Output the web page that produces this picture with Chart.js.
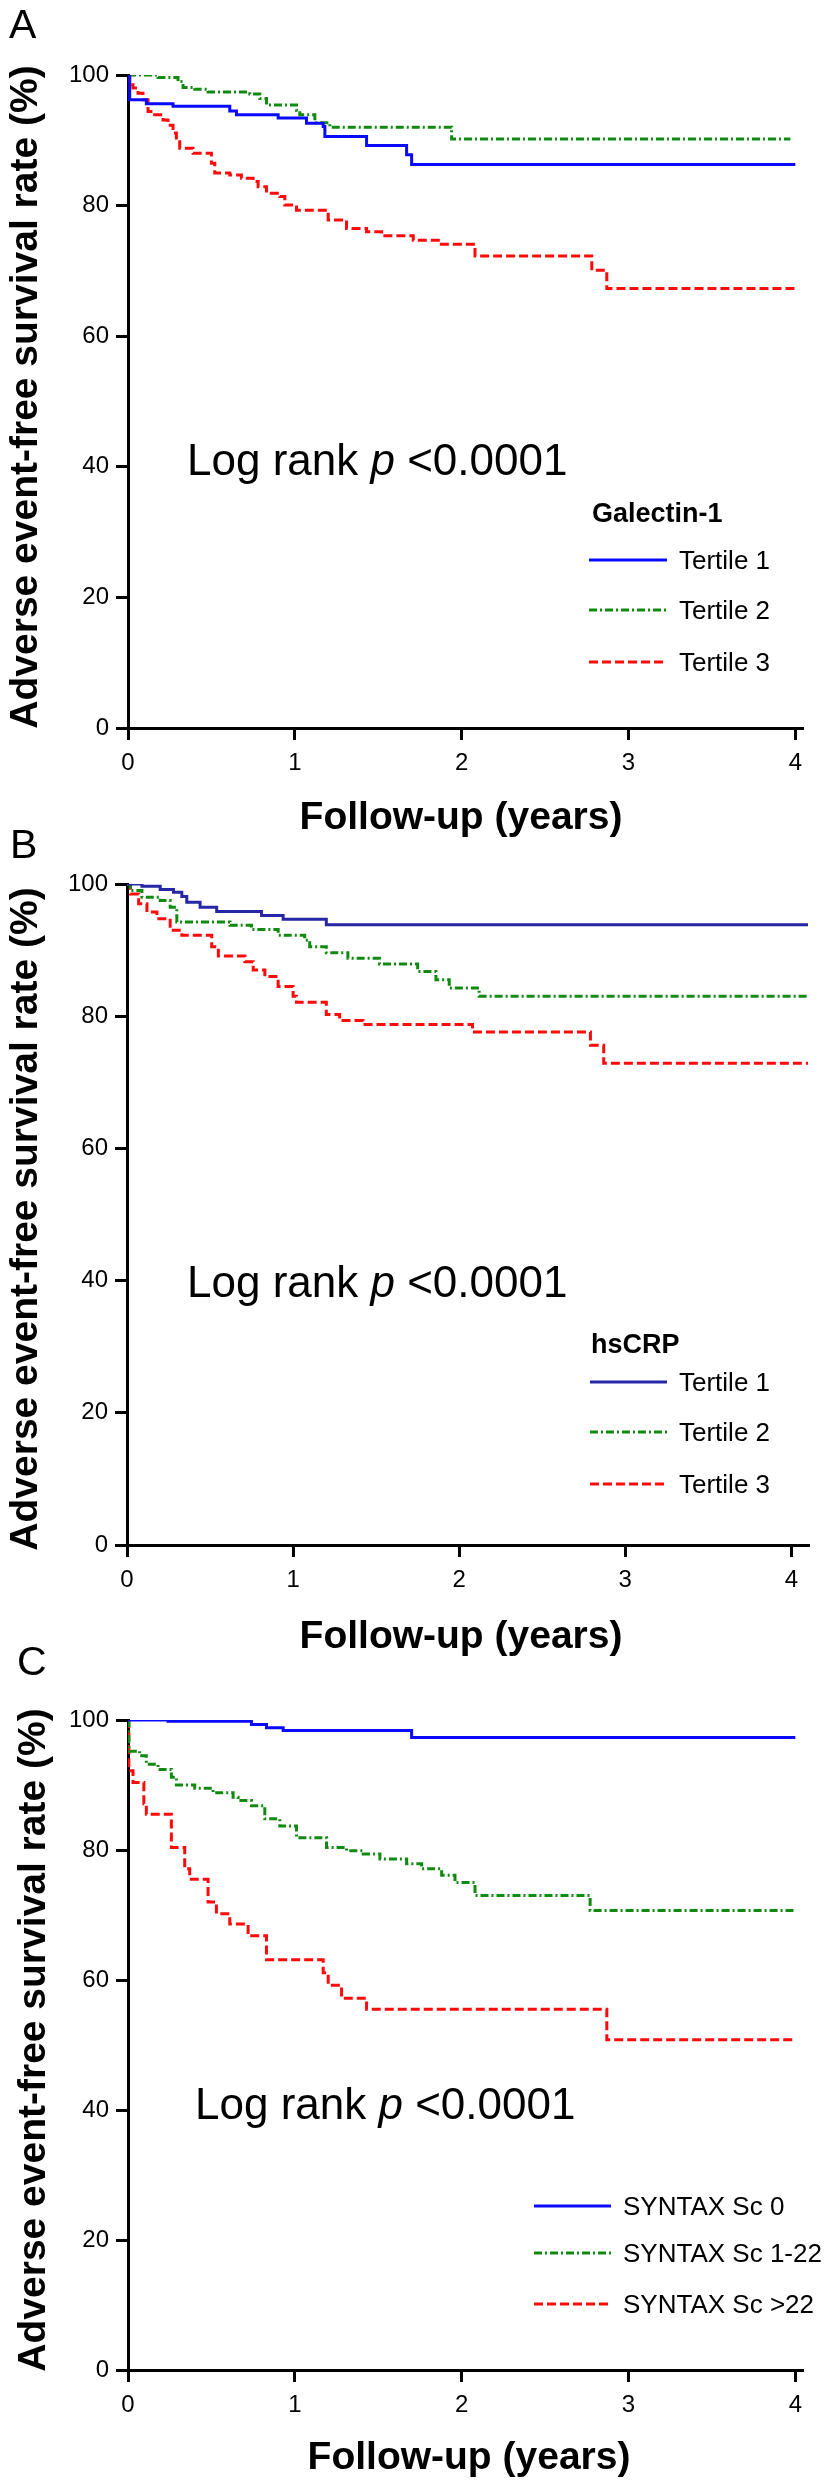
<!DOCTYPE html>
<html>
<head>
<meta charset="utf-8">
<script src="https://cdn.jsdelivr.net/npm/chart.js@4.4.1/dist/chart.umd.min.js"></script>
<style>
html,body{margin:0;padding:0;background:#fff;}
#wrap{position:relative;width:838px;height:2486px;overflow:hidden;background:#fff;}
#wrap canvas{position:absolute;left:0;top:0;}
</style>
</head>
<body>
<div id="wrap">
<canvas id="cA" width="838" height="2486"></canvas>
<canvas id="cB" width="838" height="2486"></canvas>
<canvas id="cC" width="838" height="2486"></canvas>
</div>
<script>
// ---------- tick labels ----------
const xTickValues = [0, 1, 2, 3, 4];
const yTickValues = [0, 20, 40, 60, 80, 100];

// ---------- texts ----------
const xAxisTitle = 'Follow-up (years)';
const yAxisTitle = 'Adverse event-free survival rate (%)';
const panelLetters = ['A', 'B', 'C'];
const legendTitles = ['Galectin-1', 'hsCRP', ''];
const tertileLabels = ['Tertile 1', 'Tertile 2', 'Tertile 3'];
const syntaxLabels = ['SYNTAX Sc 0', 'SYNTAX Sc 1-22', 'SYNTAX Sc >22'];

// ---------- Panel A : Galectin-1 ----------
const aT1Time = [0, 0.01, 0.11, 0.27, 0.61, 0.65, 0.90, 1.07, 1.17, 1.18, 1.43, 1.67, 1.70, 4.0];
const aT1Surv = [100, 96.2, 95.6, 95.2, 94.5, 93.9, 93.4, 92.6, 92.1, 90.6, 89.2, 87.8, 86.3, 86.3];
const aT2Time = [0, 0.18, 0.30, 0.33, 0.40, 0.48, 0.73, 0.79, 0.83, 1.01, 1.03, 1.12, 1.21, 1.94, 3.97];
const aT2Surv = [100, 99.6, 99.0, 98.1, 97.8, 97.4, 97.1, 96.4, 95.4, 94.6, 93.9, 92.7, 92.0, 90.2, 90.2];
const aT3Time = [0, 0.01, 0.03, 0.06, 0.09, 0.12, 0.16, 0.21, 0.24, 0.27, 0.29, 0.31, 0.39, 0.50, 0.52, 0.61, 0.68, 0.75, 0.78, 0.83, 0.91, 0.94, 1.01, 1.20, 1.31, 1.43, 1.52, 1.71, 1.86, 2.08, 2.78, 2.87, 4.0];
const aT3Surv = [100, 98.5, 98.0, 97.2, 96.2, 94.4, 93.9, 93.1, 92.3, 91.1, 90.1, 88.8, 88.0, 86.5, 85.0, 84.7, 84.2, 83.7, 82.9, 81.9, 81.4, 80.1, 79.3, 77.8, 76.5, 76.0, 75.4, 74.7, 74.1, 72.3, 70.1, 67.3, 67.3];

// ---------- Panel B : hsCRP ----------
const bT1Time = [0, 0.09, 0.20, 0.28, 0.33, 0.36, 0.44, 0.54, 0.81, 0.94, 1.20, 4.10];
const bT1Surv = [100, 99.65, 99.15, 98.75, 98.1, 97.25, 96.5, 95.85, 95.25, 94.65, 93.85, 93.85];
const bT2Time = [0, 0.02, 0.09, 0.20, 0.26, 0.30, 0.62, 0.75, 0.91, 1.07, 1.10, 1.20, 1.33, 1.52, 1.75, 1.86, 1.94, 2.12, 4.10];
const bT2Surv = [100, 99.0, 98.0, 97.5, 96.5, 94.25, 93.75, 93.1, 92.25, 91.5, 90.5, 89.6, 88.75, 87.9, 86.75, 85.5, 84.25, 83.0, 83.0];
const bT3Time = [0, 0.02, 0.07, 0.12, 0.18, 0.26, 0.33, 0.51, 0.55, 0.71, 0.76, 0.83, 0.91, 1.00, 1.02, 1.20, 1.28, 1.42, 2.08, 2.79, 2.87, 4.10];
const bT3Surv = [100, 98.5, 97.0, 95.75, 94.75, 93.0, 92.25, 90.5, 89.1, 88.25, 87.0, 86.0, 84.5, 83.0, 82.1, 80.25, 79.35, 78.75, 77.6, 75.6, 72.9, 72.9];

// ---------- Panel C : SYNTAX score ----------
const cS0Time = [0, 0.24, 0.74, 0.83, 0.93, 1.70, 4.0];
const cS0Surv = [100, 99.8, 99.3, 98.8, 98.4, 97.3, 97.3];
const cS1Time = [0, 0.005, 0.07, 0.11, 0.18, 0.26, 0.29, 0.40, 0.51, 0.63, 0.66, 0.74, 0.82, 0.91, 1.01, 1.19, 1.31, 1.41, 1.51, 1.67, 1.76, 1.88, 1.96, 2.08, 2.77, 4.0];
const cS1Surv = [100, 95.2, 94.5, 93.2, 92.4, 91.2, 90.0, 89.5, 88.8, 88.1, 87.6, 86.8, 84.8, 83.7, 81.9, 80.4, 79.9, 79.4, 78.6, 77.9, 77.1, 76.1, 75.0, 73.0, 70.7, 70.7];
const cS2Time = [0, 0.005, 0.03, 0.095, 0.11, 0.26, 0.34, 0.37, 0.48, 0.53, 0.61, 0.72, 0.83, 1.17, 1.20, 1.28, 1.43, 2.87, 4.0];
const cS2Surv = [100, 92.2, 90.4, 87.1, 85.5, 80.4, 77.1, 75.5, 72.0, 70.2, 68.6, 66.8, 63.1, 61.1, 59.2, 57.2, 55.5, 50.8, 50.8];

// ---------- styles ----------
const BLUE = '#0a0aff', BLUE_B = '#2626a6', GREEN = '#118a11', RED = '#ff0a0a';
const DASH_GREEN = [8, 3, 2, 3];
const DASH_RED = [9, 4];
const SANS = '"Liberation Sans", Arial, Helvetica, sans-serif';

function pts(t, s) { return t.map((v, i) => ({ x: v, y: s[i] })); }
function ds(label, t, s, color, dash) {
  return { label, data: pts(t, s), borderColor: color, backgroundColor: color,
    borderWidth: 3, borderDash: dash, stepped: 'before', pointRadius: 0,
    tension: 0, fill: false, borderCapStyle: 'butt', borderJoinStyle: 'miter' };
}

const textPlugin = {
  id: 'panelText',
  afterDraw(chart, args, o) {
    const ctx = chart.ctx;
    ctx.save();
    ctx.fillStyle = '#000';
    ctx.textBaseline = 'alphabetic';
    // panel letter
    ctx.font = '41px ' + SANS;
    ctx.textAlign = 'left';
    ctx.fillText(o.letter, o.letterX, o.letterY);
    // y title
    ctx.save();
    ctx.translate(o.yTitleX, o.yTitleY);
    ctx.rotate(-Math.PI / 2);
    ctx.font = 'bold 39px ' + SANS;
    ctx.textAlign = 'center';
    ctx.fillText(yAxisTitle, 0, 0);
    ctx.restore();
    // x title
    ctx.font = 'bold 39px ' + SANS;
    ctx.textAlign = 'center';
    ctx.fillText(xAxisTitle, o.xTitleX, o.xTitleY);
    // log rank
    ctx.textAlign = 'left';
    let x = o.lrX;
    const parts = [['Log rank ', ''], ['p', 'italic '], [' <0.0001', '']];
    for (const [txt, st] of parts) {
      ctx.font = st + '44px ' + SANS;
      ctx.fillText(txt, x, o.lrY);
      x += ctx.measureText(txt).width;
    }
    // legend
    if (o.legTitle) {
      ctx.font = 'bold 27px ' + SANS;
      ctx.fillText(o.legTitle, o.legTitleX, o.legTitleY);
    }
    chart.data.datasets.forEach((d, i) => {
      const y = o.legRows[i];
      ctx.save();
      ctx.strokeStyle = d.borderColor;
      ctx.lineWidth = 3;
      ctx.setLineDash(d.borderDash || []);
      ctx.beginPath();
      ctx.moveTo(o.legLineX1, y);
      ctx.lineTo(o.legLineX2, y);
      ctx.stroke();
      ctx.restore();
      ctx.font = '26px ' + SANS;
      ctx.textBaseline = 'middle';
      ctx.fillText(d.label, o.legTextX, y + 2);
      ctx.textBaseline = 'alphabetic';
    });
    ctx.restore();
  }
};

function makeChart(id, datasets, xMax, pad, txt) {
  return new Chart(document.getElementById(id), {
    type: 'line',
    data: { datasets },
    options: {
      responsive: false, animation: false, events: [], devicePixelRatio: 1,
      layout: { padding: pad },
      plugins: { legend: { display: false }, tooltip: { enabled: false }, panelText: txt },
      scales: {
        x: {
          type: 'linear', min: 0, max: xMax,
          afterBuildTicks: s => { s.ticks = xTickValues.map(v => ({ value: v })); },
          afterFit: s => { s.height = 60; },
          ticks: { color: '#000', font: { family: SANS, size: 24 }, padding: 9, maxRotation: 0 },
          grid: { drawOnChartArea: false, drawTicks: true, tickLength: 12, tickWidth: 3, tickColor: '#000', color: '#000', lineWidth: 3 },
          border: { display: true, color: '#000', width: 3 }
        },
        y: {
          type: 'linear', min: 0, max: 100,
          afterBuildTicks: s => { s.ticks = yTickValues.map(v => ({ value: v })); },
          afterFit: s => { s.width = 60; },
          ticks: { color: '#000', font: { family: SANS, size: 24 }, padding: 7 },
          grid: { drawOnChartArea: false, drawTicks: true, tickLength: 12, tickWidth: 3, tickColor: '#000', color: '#000', lineWidth: 3 },
          border: { display: true, color: '#000', width: 3 }
        }
      }
    },
    plugins: [textPlugin]
  });
}

makeChart('cA', [
  ds(tertileLabels[0], aT1Time, aT1Surv, BLUE, []),
  ds(tertileLabels[1], aT2Time, aT2Surv, GREEN, DASH_GREEN),
  ds(tertileLabels[2], aT3Time, aT3Surv, RED, DASH_RED)
], 4.04, { left: 68, right: 36, top: 75, bottom: 2486 - 728 - 60 }, {
  letter: panelLetters[0], letterX: 9, letterY: 38,
  yTitleX: 37, yTitleY: 397, xTitleX: 461, xTitleY: 829,
  lrX: 187, lrY: 475,
  legTitle: legendTitles[0], legTitleX: 592, legTitleY: 522,
  legRows: [560, 610, 662], legLineX1: 589, legLineX2: 667, legTextX: 679
});

makeChart('cB', [
  ds(tertileLabels[0], bT1Time, bT1Surv, BLUE_B, []),
  ds(tertileLabels[1], bT2Time, bT2Surv, GREEN, DASH_GREEN),
  ds(tertileLabels[2], bT3Time, bT3Surv, RED, DASH_RED)
], 4.10, { left: 67, right: 30, top: 884, bottom: 2486 - 1545 - 60 }, {
  letter: panelLetters[1], letterX: 10, letterY: 858,
  yTitleX: 37, yTitleY: 1219, xTitleX: 461, xTitleY: 1648,
  lrX: 187, lrY: 1297,
  legTitle: legendTitles[1], legTitleX: 591, legTitleY: 1353,
  legRows: [1382, 1432, 1484], legLineX1: 590, legLineX2: 667, legTextX: 679
});

makeChart('cC', [
  ds(syntaxLabels[0], cS0Time, cS0Surv, BLUE, []),
  ds(syntaxLabels[1], cS1Time, cS1Surv, GREEN, DASH_GREEN),
  ds(syntaxLabels[2], cS2Time, cS2Surv, RED, DASH_RED)
], 4.04, { left: 68, right: 36, top: 1720, bottom: 2486 - 2370 - 60 }, {
  letter: panelLetters[2], letterX: 17, letterY: 1675,
  yTitleX: 45, yTitleY: 2040, xTitleX: 469, xTitleY: 2469,
  lrX: 195, lrY: 2119,
  legTitle: legendTitles[2], legTitleX: 0, legTitleY: 0,
  legRows: [2206, 2253, 2304], legLineX1: 534, legLineX2: 611, legTextX: 623
});
</script>
</body>
</html>
